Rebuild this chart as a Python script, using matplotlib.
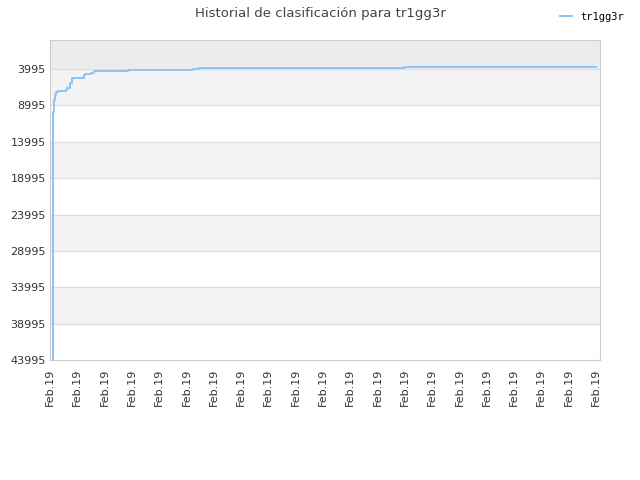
import matplotlib
matplotlib.use("Agg")
import matplotlib.pyplot as plt

# ranking history (x = position along the time axis, in tick units)
pos = [0.11, 0.12, 0.15, 0.165, 0.22, 0.29, 0.59, 0.63, 0.70, 0.74, 0.81, 0.85,
       1.21, 1.25, 1.29, 1.44, 1.51, 1.62, 2.87, 5.16, 5.23, 5.45, 13.0, 20.02]
rank = [44100, 9900, 8300, 7570, 7150, 7020, 6880, 6600, 6600, 5920, 5230, 5190,
        5190, 4820, 4680, 4680, 4470, 4220, 4130, 4060, 3995, 3860, 3720, 3720]
yticks = [3995, 8995, 13995, 18995, 23995, 28995, 33995, 38995, 43995]
xlabels = ["Feb.19"] * 21

fig = plt.figure(figsize=(6.4, 4.8), dpi=100)
ax = fig.add_axes([50/640, 1-360/480, 550/640, 320/480])

# alternating bands
ax.axhspan(0, 3995, color="#ececec", zorder=0)
for i in range(len(yticks) - 1):
    if i % 2 == 0:
        ax.axhspan(yticks[i], yticks[i+1], color="#f3f3f3", zorder=0)

ax.plot(pos, rank, color="#8ec3f5", lw=1.4, label="tr1gg3r", zorder=3,
        drawstyle="steps-post")

ax.set_ylim(43995, 0)
ax.set_xlim(0, 20.15)
ax.set_yticks(yticks)
ax.set_yticklabels([str(v) for v in yticks], fontsize=8, color="#333333")
ax.set_xticks(range(21))
ax.set_xticklabels(xlabels, rotation=90, fontsize=8, color="#333333")
ax.tick_params(axis="x", length=0, pad=6)
ax.tick_params(axis="y", length=0, pad=3)
ax.grid(axis="y", color="#dddddd", lw=0.8)
ax.set_axisbelow(True)
for s in ax.spines.values():
    s.set_color("#cccccc")

fig.suptitle("Historial de clasificación para tr1gg3r", y=0.985, fontsize=9.5, color="#444444")
fig.legend(loc="upper right", bbox_to_anchor=(0.99, 0.995), frameon=False,
           prop={"family": "DejaVu Sans Mono", "size": 7.5}, handlelength=1.2)

fig.savefig("out.png", dpi=100)
